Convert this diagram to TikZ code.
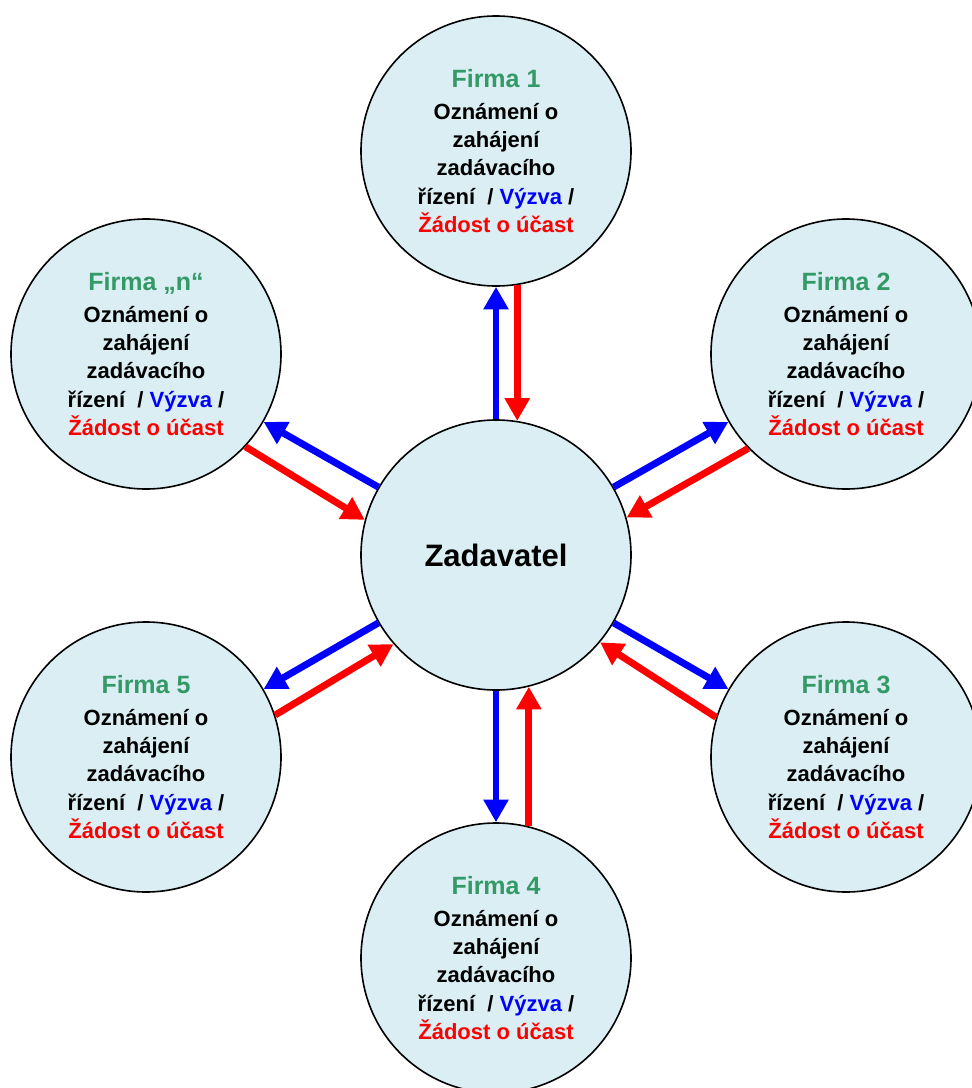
\documentclass[tikz,border=0pt]{standalone}
\usepackage{fontspec}
\setmainfont{Liberation Sans}
\usepackage{tikz}
\usetikzlibrary{arrows.meta}
\definecolor{firmgreen}{RGB}{51,153,102}
\definecolor{firmfill}{RGB}{218,238,243}
\newcommand{\firmtext}[1]{{\fontsize{18.75}{24}\selectfont\color{firmgreen}Firma #1}\\[2.8pt]
  Oznámení o\\zahájení\\zadávacího\\řízení\ \ / {\color{blue}Výzva} /\\{\color{red}Žádost o účast}}

\begin{document}
\begin{tikzpicture}[x=0.75pt,y=-0.75pt,
    firm/.style={circle,draw,line width=1.2pt,fill=firmfill,minimum size=202.5pt,
      inner sep=0pt,align=center,font=\bfseries\fontsize{16.5}{21.2}\selectfont},
    tofirm/.style={blue,line width=5.2pt,-{Triangle[length=17pt,width=18pt]}},
    fromfirm/.style={red,line width=5.2pt,-{Triangle[length=17pt,width=18pt]}}]
    \useasboundingbox (0,0) rectangle (971,1088);

    \node[firm,font=\bfseries\fontsize{23.25}{28}\selectfont] (zad) at (496,555) {Zadavatel};

    \node[firm] (f1) at (496,151) {\firmtext{1}};
    \node[firm] (f2) at (846,354) {\firmtext{2}};
    \node[firm] (f3) at (846,757) {\firmtext{3}};
    \node[firm] (f4) at (496,958) {\firmtext{4}};
    \node[firm] (f5) at (146,757) {\firmtext{5}};
    \node[firm] (fn) at (146,354) {\firmtext{„n“}};

    \draw[tofirm] (zad.90) -- (f1.270);
    \draw[fromfirm] (f1.279) -- (zad.81);
    \draw[tofirm] (zad.30) -- (f2.210);
    \draw[fromfirm] (f2.224) -- (zad.16);
    \draw[tofirm] (zad.330) -- (f3.150);
    \draw[fromfirm] (f3.163) -- (zad.320);
    \draw[tofirm] (zad.270) -- (f4.90);
    \draw[fromfirm] (f4.76) -- (zad.284);
    \draw[tofirm] (zad.210) -- (f5.30);
    \draw[fromfirm] (f5.18) -- (zad.221);
    \draw[tofirm] (zad.150) -- (fn.330);
    \draw[fromfirm] (fn.317) -- (zad.165);
\end{tikzpicture}
\end{document}
